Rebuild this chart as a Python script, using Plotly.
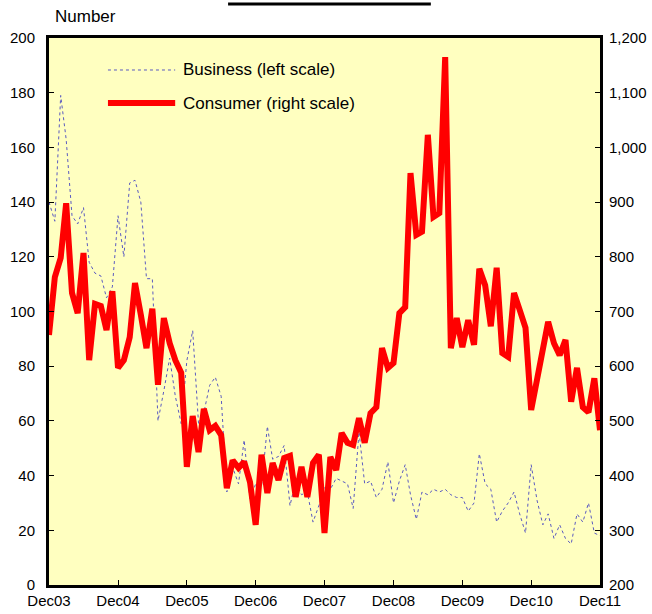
import pandas as pd
import plotly.graph_objects as go

# monthly, Dec 2003 .. Dec 2011
dates = pd.date_range("2003-12-01", periods=97, freq="MS")

business = [140, 133, 179, 163, 135, 132, 138, 118, 114, 113, 105, 109,
            135, 120, 147, 148, 140, 112, 112, 60, 71, 83, 69, 59,
            82, 93, 59, 63, 73, 76, 69, 34, 43, 37, 53, 31,
            37, 36, 58, 46, 47, 51, 29, 38, 33, 34, 23, 29,
            36, 35, 39, 38, 37, 28, 56, 37, 38, 32, 35, 45,
            30, 38, 44, 33, 24, 34, 33, 35, 34, 35, 33, 32,
            32, 27, 30, 48, 37, 35, 23, 27, 30, 34, 26, 19,
            44, 31, 22, 26, 17, 22, 17, 15, 26, 23, 30, 19,
            18]

consumer = [657, 763, 798, 898, 734, 697, 807, 611, 714, 710, 666, 737,
            597, 611, 653, 752, 694, 633, 705, 566, 688, 642, 611, 588,
            416, 509, 443, 522, 483, 491, 474, 377, 428, 414, 425, 388,
            310, 438, 368, 423, 392, 432, 436, 361, 416, 361, 423, 438,
            295, 434, 410, 478, 460, 456, 505, 460, 514, 525, 633, 597,
            606, 697, 708, 953, 840, 846, 1023, 873, 880, 1165, 633, 688,
            635, 684, 639, 778, 748, 673, 780, 624, 617, 734, 703, 670,
            520, 580, 635, 681, 642, 620, 648, 535, 597, 525, 516, 578,
            483]

tick_dates = pd.date_range("2003-12-01", periods=9, freq="12MS")
tick_labels = ["Dec03", "Dec04", "Dec05", "Dec06", "Dec07",
               "Dec08", "Dec09", "Dec10", "Dec11"]

series_names = ["Business (left scale)", "Consumer (right scale)"]

colors = {
    'business': '#5a5ac0',
    'consumer': '#ff0000',
    'plot_bg': '#ffffc0',
    'text': '#000000',
}
font_family = "Arial, Liberation Sans, sans-serif"

fig = go.Figure()
fig.add_trace(go.Scatter(
    x=dates, y=business, name=series_names[0], mode="lines",
    line=dict(color=colors['business'], width=1, dash="dot"),
    yaxis="y", showlegend=False
))
fig.add_trace(go.Scatter(
    x=dates, y=consumer, name=series_names[1], mode="lines",
    line=dict(color=colors['consumer'], width=6),
    yaxis="y2", showlegend=False
))

# legend drawn by hand so the samples are long like the original
leg_y = [0.9415, 0.881]
fig.add_shape(type="line", xref="paper", yref="paper", x0=0.107, x1=0.229,
              y0=leg_y[0], y1=leg_y[0],
              line=dict(color=colors['business'], width=1, dash="dot"))
fig.add_shape(type="line", xref="paper", yref="paper", x0=0.107, x1=0.229,
              y0=leg_y[1], y1=leg_y[1],
              line=dict(color=colors['consumer'], width=6))
for name, yy in zip(series_names, leg_y):
    fig.add_annotation(text=name, xref="paper", yref="paper", x=0.2396, y=yy,
                       xanchor="left", yanchor="middle", showarrow=False,
                       font=dict(size=17, color=colors['text']))

fig.add_annotation(text="Number", xref="paper", yref="paper", x=0.008, y=1.04,
                   xanchor="left", yanchor="middle", showarrow=False,
                   font=dict(size=17, color=colors['text']))

# black bar above the chart
fig.add_shape(type="line", xref="paper", yref="paper", x0=0.325, x1=0.693,
              y0=1.062, y1=1.062, line=dict(color="black", width=3))

fig.update_layout(
    width=652, height=614,
    margin=dict(l=49, r=52, t=38, b=29),
    paper_bgcolor="white",
    plot_bgcolor=colors['plot_bg'],
    font=dict(family=font_family, size=15, color=colors['text']),
    xaxis=dict(
        range=[dates[0], dates[-1]],
        tickvals=tick_dates, ticktext=tick_labels,
        ticks="inside", ticklen=5, tickcolor="black",
        showline=True, linecolor="black", linewidth=3, mirror=True,
        showgrid=False, zeroline=False, automargin=False,
    ),
    yaxis=dict(
        range=[0, 200], dtick=20,
        ticks="inside", ticklen=5, tickcolor="black",
        showline=True, linecolor="black", linewidth=3, mirror=True,
        showgrid=False, zeroline=False, ticklabelstandoff=8, automargin=False,
    ),
    yaxis2=dict(
        range=[200, 1200], dtick=100, tickformat=",",
        overlaying="y", side="right",
        ticks="inside", ticklen=5, tickcolor="black",
        showline=False, showgrid=False, zeroline=False, ticklabelstandoff=8,
        automargin=False,
    ),
)

# drop the browser's default body margin so the figure sits at the page corner
fig.write_html("out.html", config={"displayModeBar": False},
               post_script="document.body.style.margin='0';")
